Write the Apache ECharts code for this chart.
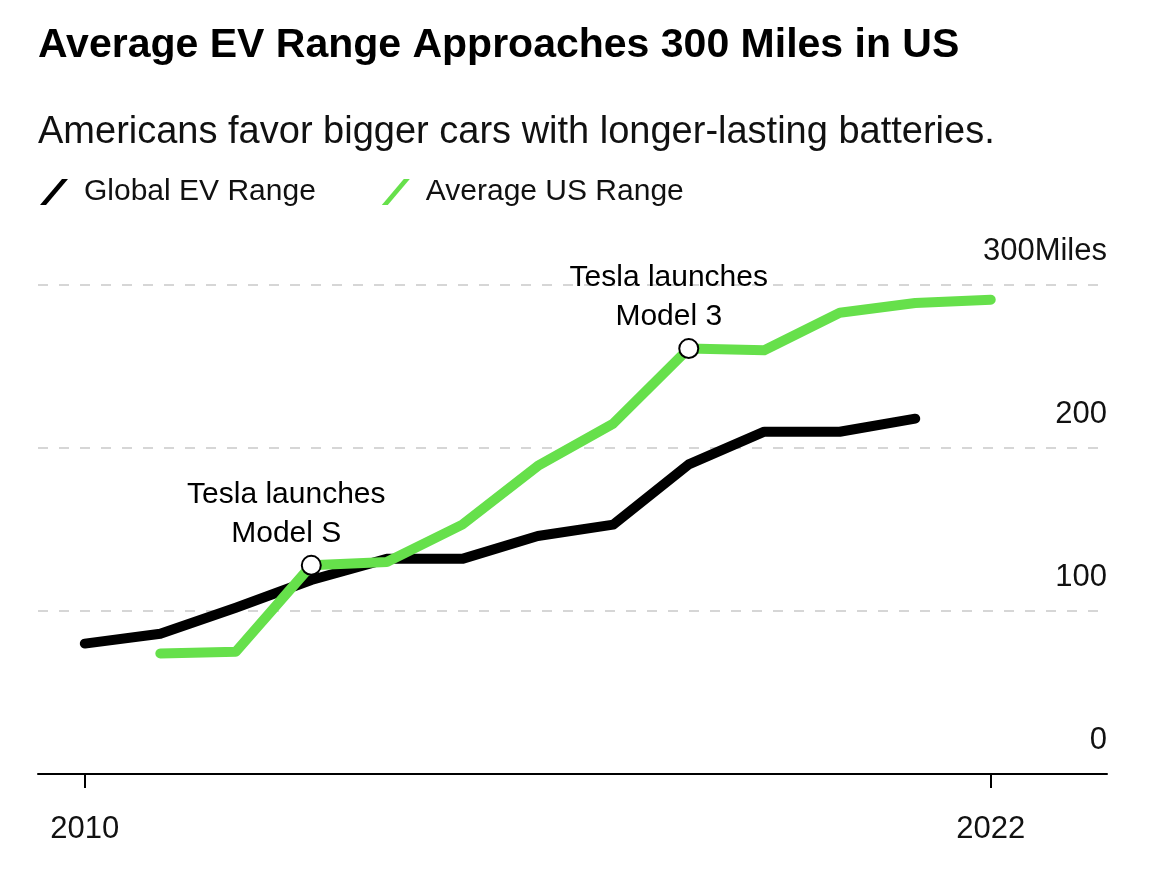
<!DOCTYPE html>
<html>
<head>
<meta charset="utf-8">
<script src="https://cdn.jsdelivr.net/npm/echarts@6/dist/echarts.min.js"></script>
<style>
html,body{margin:0;padding:0;background:#fff;}
#chart{width:1170px;height:873px;}
</style>
</head>
<body>
<div id="chart"></div>
<script>
const titleText = 'Average EV Range Approaches 300 Miles in US';
const subtitleText = 'Americans favor bigger cars with longer-lasting batteries.';
const seriesNames = ['Global EV Range', 'Average US Range'];
const globalYears = [2010, 2011, 2012, 2013, 2014, 2015, 2016, 2017, 2018, 2019, 2020, 2021];
const globalRange = [80, 86, 102, 119, 132, 132, 146, 153, 190, 210, 210, 218];
const usYears = [2011, 2012, 2013, 2014, 2015, 2016, 2017, 2018, 2019, 2020, 2021, 2022];
const usRange = [74, 75, 128, 130, 153, 189, 215, 261, 260, 283, 289, 291];
const annotations = [
  { year: 2013, text: 'Tesla launches\nModel S' },
  { year: 2018, text: 'Tesla launches\nModel 3' }
];
const xTickValues = [2010, 2022];
const yTicks = [0, 100, 200, 300];
const yUnit = 'Miles';

const FONT = '"Liberation Sans", Arial, sans-serif';
const GREEN = '#66e04b';

const usData = usYears.map((y, i) => {
  const ann = annotations.find(a => a.year === y);
  if (!ann) return [y, usRange[i]];
  return {
    value: [y, usRange[i]],
    symbol: 'circle',
    symbolSize: 19,
    itemStyle: { color: '#fff', borderColor: '#000', borderWidth: 2 },
    label: {
      show: true,
      position: 'top',
      formatter: ann.text,
      color: '#000',
      fontFamily: FONT,
      fontSize: 30,
      lineHeight: 39,
      align: 'center',
      offset: [ann.year === 2013 ? -25 : -20, ann.year === 2013 ? 3 : 3]
    }
  };
});

const chart = echarts.init(document.getElementById('chart'));
chart.setOption({
  animation: false,
  backgroundColor: '#fff',
  title: [
    { text: titleText, left: 38, top: 25, padding: 0,
      textStyle: { fontFamily: FONT, fontWeight: 'bold', fontSize: 41, color: '#000' } },
    { text: subtitleText, left: 38, top: 114, padding: 0,
      textStyle: { fontFamily: FONT, fontWeight: 'normal', fontSize: 38, color: '#111' } }
  ],
  legend: {
    left: 40, top: 177, padding: 0,
    itemWidth: 30, itemHeight: 26, itemGap: 66,
    data: [
      { name: seriesNames[0], icon: 'path://M0,26 L22,0 L28,0 L6,26 Z', itemStyle: { color: '#000' } },
      { name: seriesNames[1], icon: 'path://M0,26 L22,0 L28,0 L6,26 Z', itemStyle: { color: GREEN } }
    ],
    textStyle: { fontFamily: FONT, fontSize: 30, color: '#111', padding: [0, 0, 0, 10] }
  },
  grid: { left: 38, right: 63, top: 285, bottom: 99, containLabel: false },
  xAxis: {
    type: 'value',
    min: 2009.38, max: 2023.54,
    axisLine: { show: true, lineStyle: { color: '#000', width: 2 } },
    axisTick: { show: true, customValues: xTickValues, length: 14, lineStyle: { color: '#000', width: 2 } },
    axisLabel: { show: true, customValues: xTickValues, margin: 40, fontFamily: FONT, fontSize: 31, color: '#111',
      formatter: v => String(v) },
    splitLine: { show: false }
  },
  yAxis: {
    type: 'value',
    position: 'right',
    min: 0, max: 300, interval: 100,
    axisLine: { show: false },
    axisTick: { show: false },
    splitLine: { show: true, lineStyle: { color: '#d6d6d6', width: 2, type: [10, 11] } },
    axisLabel: {
      inside: true, margin: 0, align: 'right', verticalAlign: 'bottom',
      padding: [0, 0, 18, 0],
      fontFamily: FONT, fontSize: 31, color: '#111',
      formatter: v => v === yTicks[yTicks.length - 1] ? v + yUnit : String(v)
    }
  },
  series: [
    {
      name: seriesNames[0], type: 'line',
      data: globalYears.map((y, i) => [y, globalRange[i]]),
      showSymbol: false, symbol: 'none',
      lineStyle: { color: '#000', width: 10, cap: 'round', join: 'round' },
      itemStyle: { color: '#000' },
      z: 2
    },
    {
      name: seriesNames[1], type: 'line',
      data: usData,
      showSymbol: true, symbol: 'none',
      lineStyle: { color: GREEN, width: 10, cap: 'round', join: 'round' },
      itemStyle: { color: GREEN },
      z: 3
    }
  ]
});
</script>
</body>
</html>
